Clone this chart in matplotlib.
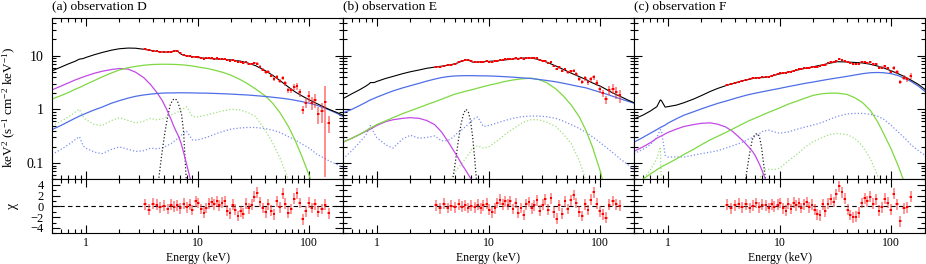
import numpy as np
import matplotlib
matplotlib.use('Agg')
import matplotlib.pyplot as plt
from matplotlib.ticker import LogLocator, NullFormatter, MultipleLocator

plt.rcParams['font.family'] = ['Liberation Serif', 'DejaVu Serif']
plt.rcParams['mathtext.fontset'] = 'custom'
plt.rcParams['mathtext.rm'] = 'Liberation Serif'
plt.rcParams['mathtext.it'] = 'Liberation Serif:italic'
plt.rcParams['axes.linewidth'] = 0.8

# model grid (keV)
e_mod = [0.5, 0.6, 0.7, 0.8, 0.86, 0.88, 0.95, 1.0, 1.2, 1.4, 1.7, 2.0,
         2.4, 2.8, 3.3, 3.8, 4.3, 4.8, 5.3, 5.8, 6.1, 6.4, 6.7, 7.0,
         7.15, 7.5, 8.0, 9, 10, 12, 14, 17, 20, 24, 28, 33,
         40, 47, 55, 65, 75, 85, 100, 115, 130, 150, 175, 200]
e_gauss = [4.2, 4.5, 4.8, 5.1, 5.4, 5.7, 6.0, 6.3, 6.6, 6.9, 7.2, 7.5, 7.8, 8.1, 8.4]

# ---- observation D
total_D = [5.2, 6.1, 7.0, 7.8, 8.4, 8.6, 8.8, 9.2, 10.4, 11.4, 12.6, 13.4,
           13.8, 13.7, 13.1, 12.5, 12.0, 11.7, 11.6, 11.8, 12.1, 12.3, 11.9, 11.0,
           10.6, 10.2, 9.9, 9.6, 9.2, 8.9, 8.7, 8.5, 8.3, 7.9, 7.3, 6.5,
           5.3, 4.3, 3.4, 2.6, 2.1, 1.8, 1.5, 1.3, 1.15, 1.0, 0.88, 0.78]
blue_D = [0.42, 0.5, 0.59, 0.68, 0.73, 0.75, 0.8, 0.84, 0.98, 1.1, 1.3, 1.45,
          1.62, 1.75, 1.85, 1.92, 1.97, 2.0, 2.02, 2.02, 2.02, 2.03, 2.03, 2.03,
          2.03, 2.03, 2.03, 2.02, 2.01, 2.0, 1.98, 1.95, 1.92, 1.88, 1.85, 1.8,
          1.74, 1.68, 1.62, 1.55, 1.47, 1.4, 1.3, 1.2, 1.1, 0.98, 0.85, 0.74]
green_D = [1.55, 1.8, 2.05, 2.35, 2.5, 2.55, 2.75, 2.9, 3.45, 4.0, 4.75, 5.4,
           5.95, 6.3, 6.6, 6.78, 6.87, 6.9, 6.9, 6.88, 6.85, 6.83, 6.8, 6.75,
           6.73, 6.7, 6.6, 6.4, 6.15, 5.8, 5.4, 4.85, 4.3, 3.6, 3.0, 2.4,
           1.8, 1.3, 0.85, 0.48, 0.26, 0.14, 0.058, 0.022, 0.008, 0.002, 0.001, 0.001]
magenta_D = [2.3, 2.7, 3.1, 3.5, 3.7, 3.78, 4.0, 4.15, 4.7, 5.1, 5.5, 5.75,
             5.6, 4.9, 3.9, 2.9, 2.1, 1.5, 1.0, 0.65, 0.5, 0.4, 0.33, 0.26,
             0.23, 0.16, 0.095, 0.035, 0.012, 0.001, 0.001, 0.001, 0.001, 0.001, 0.001, 0.001,
             0.001, 0.001, 0.001, 0.001, 0.001, 0.001, 0.001, 0.001, 0.001, 0.001, 0.001, 0.001]
gdot_D = [0.49, 0.6, 0.72, 0.88, 0.98, 1.0, 0.72, 0.65, 0.52, 0.5, 0.62, 0.7,
          0.62, 0.56, 0.6, 0.68, 0.64, 0.66, 0.72, 0.78, 0.82, 0.86, 0.9, 0.95,
          0.98, 1.03, 1.12, 0.74, 0.72, 0.78, 0.85, 0.94, 1.0, 0.98, 0.88, 0.74,
          0.42, 0.24, 0.12, 0.05, 0.02, 0.008, 0.001, 0.001, 0.001, 0.001, 0.001, 0.001]
bdot_D = [0.145, 0.18, 0.22, 0.27, 0.3, 0.31, 0.21, 0.19, 0.16, 0.15, 0.18, 0.2,
          0.18, 0.165, 0.17, 0.19, 0.185, 0.19, 0.21, 0.23, 0.25, 0.27, 0.29, 0.31,
          0.33, 0.36, 0.39, 0.27, 0.27, 0.3, 0.34, 0.39, 0.43, 0.45, 0.46, 0.46,
          0.44, 0.41, 0.37, 0.31, 0.27, 0.23, 0.19, 0.15, 0.13, 0.11, 0.095, 0.083]
gauss_D = [0.015, 0.05, 0.15, 0.36, 0.72, 1.2, 1.5, 1.58, 1.45, 1.1, 0.8, 0.4, 0.09, 0.025, 0.007]

# ---- observation E
total_E = [1.58, 1.95, 2.3, 2.7, 3.0, 3.15, 3.15, 3.3, 3.75, 4.1, 4.6, 5.0,
           5.4, 5.8, 6.1, 6.35, 6.6, 6.9, 7.3, 7.9, 8.2, 8.3, 8.1, 7.8,
           7.6, 7.5, 7.6, 7.7, 7.8, 8.0, 8.3, 8.7, 9.0, 9.0, 8.5, 7.6,
           6.4, 5.5, 4.7, 4.05, 3.55, 3.1, 2.7, 2.3, 2.0, 1.75, 1.5, 1.33]
blue_E = [0.86, 1.0, 1.17, 1.35, 1.47, 1.5, 1.6, 1.68, 1.95, 2.2, 2.5, 2.75,
          3.05, 3.35, 3.65, 3.9, 4.05, 4.15, 4.2, 4.22, 4.23, 4.23, 4.23, 4.23,
          4.23, 4.22, 4.21, 4.2, 4.18, 4.12, 4.05, 3.95, 3.85, 3.75, 3.6, 3.45,
          3.25, 3.05, 2.85, 2.65, 2.5, 2.3, 2.08, 1.9, 1.74, 1.58, 1.42, 1.3]
green_E = [0.245, 0.29, 0.34, 0.4, 0.44, 0.45, 0.49, 0.52, 0.61, 0.7, 0.83, 0.94,
           1.08, 1.22, 1.38, 1.54, 1.7, 1.86, 1.98, 2.08, 2.15, 2.2, 2.25, 2.3,
           2.33, 2.38, 2.48, 2.65, 2.8, 3.05, 3.3, 3.55, 3.7, 3.8, 3.6, 3.15,
           2.4, 1.75, 1.2, 0.72, 0.39, 0.2, 0.07, 0.022, 0.006, 0.001, 0.001, 0.001]
magenta_E = [0.245, 0.29, 0.34, 0.39, 0.42, 0.43, 0.47, 0.5, 0.59, 0.64, 0.68, 0.7,
             0.68, 0.62, 0.52, 0.38, 0.26, 0.18, 0.13, 0.093, 0.08, 0.068, 0.058, 0.05,
             0.046, 0.038, 0.028, 0.015, 0.007, 0.001, 0.001, 0.001, 0.001, 0.001, 0.001, 0.001,
             0.001, 0.001, 0.001, 0.001, 0.001, 0.001, 0.001, 0.001, 0.001, 0.001, 0.001, 0.001]
gdot_E = [0.001, 0.001, 0.001, 0.001, 0.001, 0.001, 0.001, 0.001, 0.001, 0.001, 0.001, 0.001,
          0.001, 0.001, 0.001, 0.001, 0.04, 0.06, 0.08, 0.1, 0.115, 0.13, 0.15, 0.17,
          0.19, 0.2, 0.21, 0.19, 0.2, 0.26, 0.34, 0.45, 0.56, 0.64, 0.64, 0.58,
          0.48, 0.34, 0.23, 0.11, 0.045, 0.015, 0.001, 0.001, 0.001, 0.001, 0.001, 0.001]
bdot_E = [0.12, 0.17, 0.24, 0.33, 0.45, 0.5, 0.36, 0.3, 0.22, 0.19, 0.28, 0.33,
          0.29, 0.3, 0.32, 0.26, 0.26, 0.3, 0.37, 0.42, 0.46, 0.5, 0.55, 0.6,
          0.63, 0.68, 0.72, 0.48, 0.5, 0.56, 0.62, 0.69, 0.73, 0.75, 0.75, 0.73,
          0.68, 0.6, 0.52, 0.44, 0.37, 0.31, 0.24, 0.19, 0.155, 0.12, 0.095, 0.075]
gauss_E = [0.005, 0.02, 0.05, 0.12, 0.28, 0.55, 0.85, 1.0, 0.9, 0.62, 0.32, 0.13, 0.05, 0.015, 0.004]

# ---- observation F
total_F = [0.66, 0.78, 0.93, 1.12, 1.5, 1.45, 1.1, 1.12, 1.2, 1.33, 1.55, 1.8,
           2.15, 2.45, 2.75, 3.0, 3.25, 3.45, 3.6, 3.75, 3.85, 3.9, 3.9, 3.9,
           3.9, 3.95, 4.05, 4.3, 4.55, 4.95, 5.3, 5.8, 6.2, 6.7, 7.2, 7.7,
           7.6, 7.45, 7.3, 6.9, 6.4, 5.9, 5.2, 4.6, 4.1, 3.5, 2.9, 2.35]
blue_F = [0.245, 0.3, 0.36, 0.42, 0.46, 0.47, 0.51, 0.55, 0.67, 0.78, 0.9, 1.02,
          1.16, 1.29, 1.42, 1.55, 1.67, 1.78, 1.88, 1.96, 2.0, 2.04, 2.08, 2.12,
          2.14, 2.18, 2.24, 2.35, 2.45, 2.65, 2.82, 3.05, 3.22, 3.45, 3.65, 3.85,
          4.1, 4.35, 4.6, 4.8, 4.85, 4.8, 4.6, 4.25, 3.8, 3.3, 2.7, 2.15]
green_F = [0.04, 0.05, 0.063, 0.075, 0.083, 0.085, 0.093, 0.098, 0.12, 0.145, 0.18, 0.22,
           0.27, 0.315, 0.37, 0.43, 0.49, 0.55, 0.61, 0.66, 0.69, 0.72, 0.75, 0.78,
           0.8, 0.83, 0.88, 0.97, 1.06, 1.25, 1.4, 1.62, 1.82, 1.95, 2.0, 2.0,
           1.9, 1.65, 1.35, 0.95, 0.6, 0.36, 0.18, 0.09, 0.045, 0.015, 0.004, 0.001]
magenta_F = [0.166, 0.2, 0.24, 0.29, 0.315, 0.32, 0.35, 0.37, 0.43, 0.48, 0.52, 0.55,
             0.56, 0.53, 0.47, 0.39, 0.31, 0.25, 0.2, 0.16, 0.135, 0.11, 0.09, 0.072,
             0.064, 0.05, 0.034, 0.015, 0.006, 0.001, 0.001, 0.001, 0.001, 0.001, 0.001, 0.001,
             0.001, 0.001, 0.001, 0.001, 0.001, 0.001, 0.001, 0.001, 0.001, 0.001, 0.001, 0.001]
gdot_F = [0.03, 0.05, 0.075, 0.12, 0.2, 0.04, 0.02, 0.015, 0.015, 0.016, 0.018, 0.02,
          0.022, 0.025, 0.028, 0.03, 0.033, 0.036, 0.04, 0.043, 0.046, 0.05, 0.055, 0.06,
          0.075, 0.077, 0.077, 0.076, 0.08, 0.11, 0.14, 0.2, 0.25, 0.3, 0.34, 0.355,
          0.34, 0.29, 0.21, 0.12, 0.06, 0.025, 0.001, 0.001, 0.001, 0.001, 0.001, 0.001]
bdot_F = [0.15, 0.18, 0.22, 0.3, 0.42, 0.4, 0.14, 0.13, 0.13, 0.13, 0.14, 0.15,
          0.16, 0.17, 0.19, 0.21, 0.23, 0.25, 0.28, 0.3, 0.32, 0.34, 0.36, 0.38,
          0.4, 0.4, 0.41, 0.38, 0.36, 0.38, 0.42, 0.47, 0.51, 0.57, 0.65, 0.74,
          0.82, 0.84, 0.84, 0.81, 0.75, 0.66, 0.5, 0.38, 0.3, 0.22, 0.17, 0.14]
gauss_F = [0.002, 0.008, 0.03, 0.07, 0.15, 0.27, 0.34, 0.355, 0.32, 0.2, 0.1, 0.05, 0.02, 0.006, 0.002]

# ---- unfolded data points (keV), flux, error (%) and residuals (chi)
e_dat = [3.4, 3.7, 4.0, 4.3, 4.6, 5.0, 5.4, 5.8, 6.2, 6.6,
         7.0, 7.5, 8.0, 8.5, 9.0, 9.6, 10.2, 10.8, 11.4, 12.0,
         12.7, 13.4, 14.1, 14.9, 15.7, 16.6, 17.5, 18.5, 19.5, 20.6,
         21.8, 23.0, 24.3, 25.7, 27.2, 28.8, 30.5, 32.3, 34.2, 36.2,
         38.3, 40.6, 43.0, 45.6, 48.3, 51.2, 54.3, 57.6, 61.1, 64.8,
         68.8, 73.0, 77.5, 82.3, 87.4, 92.8, 98.6, 105, 112, 120,
         129, 139, 149]

flux_D = [13.08, 12.49, 12.38, 12.04, 11.77, 11.66, 11.53, 11.84, 12.19, 12.03,
          10.94, 10.27, 9.87, 9.79, 9.5, 9.48, 9.26, 9.0, 8.78, 8.85,
          8.92, 8.91, 8.78, 8.83, 8.62, 8.68, 8.7, 8.21, 8.01, 8.32,
          7.94, 7.5, 7.6, 7.23, 7.57, 7.06, 7.0, 7.18, 7.12, 6.21,
          5.5, 4.85, 4.98, 4.25, 3.67, 4.07, 3.39, 3.85, 3.05, 2.27,
          2.26, 2.6, 2.7, 2.06, 0.99, 1.34, 1.76, 1.32, 1.5, 0.82,
          0.93, 1.37, 0.55]
err_D = [1.5, 1.4, 1.3, 1.2, 1.2, 1.2, 1.2, 1.2, 1.2, 1.2,
         1.3, 1.3, 1.4, 1.4, 1.5, 1.6, 1.7, 1.8, 1.9, 2.0,
         2.1, 2.2, 2.3, 2.4, 2.5, 2.6, 2.7, 2.8, 3.0, 3.1,
         3.3, 3.5, 3.7, 3.9, 4.1, 4.3, 4.6, 4.9, 5.2, 5.5,
         5.8, 6.2, 6.6, 7.0, 7.5, 8.0, 8.6, 9.2, 10, 11,
         12, 13, 14, 16, 18, 20, 23, 26, 30, 35,
         40, 96, 35]
chi_D = [0.4, -0.6, 0.5, 0.3, -0.2, 0.1, -0.5, 0.3, -0.1, 0.2,
         -0.4, 0.5, -0.2, 0.3, -0.7, 0.9, 0.6, -0.5, -1.2, -0.3,
         0.5, 0.8, 0.4, 0.9, 0.2, 0.7, 1.0, -0.8, -1.3, 0.3,
         -0.6, -1.8, -0.9, -1.4, 0.5, -0.4, 0.3, 1.8, 2.5, 0.8,
         -0.3, -1.1, 0.4, -0.8, -1.5, 0.9, -0.2, 2.3, 0.5, -1.2,
         -0.5, 1.4, 2.4, 0.6, -2.4, -0.9, 0.7, -0.3, 0.4, -1.0,
         -0.5, 0.3, -1.3]

flux_E = [6.17, 6.25, 6.51, 6.57, 6.79, 7.03, 7.44, 7.89, 8.27, 8.11,
          7.81, 7.48, 7.64, 7.6, 7.73, 7.82, 7.72, 7.71, 7.89, 8.1,
          8.29, 8.27, 8.46, 8.48, 8.71, 8.54, 8.87, 8.59, 8.88, 8.63,
          9.1, 9.2, 8.84, 8.85, 8.9, 8.12, 8.09, 8.08, 7.22, 7.5,
          6.36, 5.59, 6.06, 5.25, 5.64, 4.89, 5.11, 5.24, 4.5, 3.72,
          3.24, 3.79, 3.21, 3.62, 3.94, 3.07, 2.39, 2.0, 1.54, 2.33,
          2.44, 2.06, 1.81]
err_E = [2.0, 1.9, 1.8, 1.7, 1.6, 1.6, 1.5, 1.5, 1.5, 1.5,
         1.5, 1.6, 1.6, 1.7, 1.7, 1.8, 1.8, 1.9, 1.9, 2.0,
         2.0, 2.1, 2.1, 2.2, 2.2, 2.3, 2.3, 2.4, 2.5, 2.6,
         2.7, 2.8, 2.9, 3.0, 3.2, 3.4, 3.6, 3.8, 4.0, 4.3,
         4.6, 4.9, 5.2, 5.6, 6.0, 6.4, 6.8, 7.2, 7.7, 8.2,
         8.8, 9.4, 10, 11, 12, 13, 14, 15, 17, 19,
         21, 24, 27]
chi_E = [0.2, -0.4, 0.5, -0.3, 0.1, -0.2, 0.4, -0.1, 0.2, -0.3,
         0.1, -0.2, 0.3, -0.4, 0.2, 0.5, -0.6, -1.1, -0.4, 0.6,
         1.2, 0.4, 0.9, 0.3, 1.0, -0.5, 0.6, -1.2, -0.3, -1.6,
         0.4, 0.8, -0.4, 0.2, 1.1, -0.8, 0.3, 1.3, -0.6, 1.5,
         -1.1, -2.3, 0.2, -1.4, 0.9, -0.5, 1.1, 2.1, 0.6, -1.0,
         -1.8, 0.4, -0.7, 1.2, 2.6, 0.5, -0.9, -1.5, -2.1, 0.3,
         1.0, 0.4, 0.1]

flux_F = [2.82, 2.92, 3.11, 3.29, 3.36, 3.53, 3.61, 3.76, 3.91, 3.89,
          3.92, 3.96, 4.03, 4.21, 4.29, 4.48, 4.65, 4.68, 4.76, 5.0,
          5.02, 5.27, 5.34, 5.51, 5.57, 5.78, 5.96, 5.98, 6.17, 6.19,
          6.22, 6.32, 6.79, 6.76, 7.15, 7.49, 7.55, 8.05, 8.5, 8.28,
          8.02, 7.53, 7.22, 7.02, 6.95, 7.03, 7.48, 7.67, 7.34, 7.51,
          6.87, 6.97, 5.99, 5.96, 6.31, 5.79, 5.02, 5.9, 4.88, 3.28,
          3.89, 3.62, 4.16]
err_F = [2.5, 2.4, 2.3, 2.2, 2.1, 2.0, 2.0, 1.9, 1.9, 1.9,
         1.9, 1.9, 1.9, 1.9, 1.9, 1.9, 1.9, 1.9, 1.9, 1.9,
         1.9, 1.9, 1.9, 1.9, 2.0, 2.0, 2.0, 2.0, 2.1, 2.1,
         2.2, 2.2, 2.3, 2.3, 2.4, 2.5, 2.6, 2.7, 2.8, 2.9,
         3.0, 3.2, 3.3, 3.5, 3.7, 3.9, 4.1, 4.3, 4.6, 4.9,
         5.2, 5.5, 5.8, 6.2, 6.6, 7.0, 7.5, 8.0, 8.6, 9.3,
         10, 11, 12]
chi_F = [0.3, -0.4, 0.2, 0.5, -0.2, 0.4, -0.3, 0.1, 0.6, -0.2,
         0.3, 0.2, -0.3, 0.4, -0.1, 0.3, 0.6, -0.4, -0.8, 0.5,
         -0.5, 0.7, 0.2, 0.6, -0.3, 0.4, 0.8, -0.2, 0.3, -0.6,
         -1.5, -1.7, 0.4, -0.9, 0.5, 1.3, 0.8, 2.2, 3.7, 2.6,
         1.4, -0.6, -1.6, -2.0, -1.9, -1.2, 0.6, 1.5, 0.9, 1.8,
         0.5, 1.3, -0.8, -0.2, 1.4, 0.7, -0.6, 2.3, 0.4, -2.8,
         -0.4, -0.2, 1.8]

panels = [
    ('(a) observation D', total_D, blue_D, green_D, magenta_D, gdot_D, bdot_D, gauss_D, flux_D, err_D, chi_D),
    ('(b) observation E', total_E, blue_E, green_E, magenta_E, gdot_E, bdot_E, gauss_E, flux_E, err_E, chi_E),
    ('(c) observation F', total_F, blue_F, green_F, magenta_F, gdot_F, bdot_F, gauss_F, flux_F, err_F, chi_F),
]

c_blue = '#4e6ee8'
c_green = '#7fd842'
c_mag = '#c24ae6'
c_gdot = '#9fe07e'
c_bdot = '#7d8ff0'
c_err = (1.0, 0.2, 0.2, 0.6)

# bin widths from the data energies
e = np.array(e_dat)
mid = np.sqrt(e[:-1] * e[1:])
edges = np.concatenate([[e[0] ** 2 / mid[0]], mid, [e[-1] ** 2 / mid[-1]]])
xerr = [e - edges[:-1], edges[1:] - e]


def style(a):
    a.tick_params(which='both', direction='in', top=True, right=True, width=0.8)
    a.tick_params(which='major', length=6)
    a.tick_params(which='minor', length=3)


fig = plt.figure(figsize=(9.26, 2.64), dpi=100)
lefts = [52, 343, 634]
for i, p in enumerate(panels):
    title, tot, blu, grn, mag, gdt, bdt, gss, flux, err, chi = p
    x0 = lefts[i] / 926.0
    ax = fig.add_axes([x0, 1 - 179.3 / 264, 291 / 926.0, 161.3 / 264])
    rx = fig.add_axes([x0, 1 - 233.3 / 264, 291 / 926.0, 54 / 264], sharex=ax)

    ax.plot(e_mod, bdt, ':', color=c_bdot, lw=0.9)
    ax.plot(e_mod, gdt, ':', color=c_gdot, lw=0.9)
    ax.plot(e_gauss, gss, ':', color='#222222', lw=0.9)
    ax.plot(e_mod, mag, '-', color=c_mag, lw=0.9)
    ax.plot(e_mod, grn, '-', color=c_green, lw=0.9)
    ax.plot(e_mod, blu, '-', color=c_blue, lw=0.9)
    ax.plot(e_mod, tot, '-', color='black', lw=0.8)

    f = np.array(flux)
    ax.errorbar(e, f, yerr=f * np.array(err) / 100.0, xerr=xerr, fmt='none',
                ecolor=c_err, elinewidth=1.3)
    ax.plot(e, f, 's', color='red', ms=1.6, mew=0)

    rx.axhline(0, color='black', lw=0.8, ls=(0, (4, 3)))
    rx.errorbar(e, chi, yerr=1.0, xerr=xerr, fmt='none', ecolor=c_err, elinewidth=1.2)
    rx.plot(e, chi, 's', color='red', ms=1.6, mew=0)

    ax.set_xscale('log')
    ax.set_yscale('log')
    ax.set_xlim(0.5, 200)
    ax.set_ylim(0.05, 50)
    rx.set_ylim(-5, 5)

    for a in (ax, rx):
        a.xaxis.set_major_locator(LogLocator(base=10, subs=(1.0,)))
        a.xaxis.set_minor_locator(LogLocator(base=10, subs=np.arange(2, 10)))
        a.xaxis.set_minor_formatter(NullFormatter())
        style(a)
    ax.set_yticks([0.1, 1, 10])
    ax.yaxis.set_minor_locator(LogLocator(base=10, subs=np.arange(2, 10)))
    ax.yaxis.set_minor_formatter(NullFormatter())
    rx.set_yticks([-4, -2, 0, 2, 4])
    rx.yaxis.set_minor_locator(MultipleLocator(1))

    ax.tick_params(axis='x', labelbottom=False)
    rx.set_xticks([1, 10, 100])
    rx.set_xticklabels(['1', '10', '100'])
    rx.set_xlim(0.5, 200)
    rx.tick_params(axis='x', labelsize=8.5, pad=2.5)
    rx.set_xlabel('Energy (keV)', fontsize=8.5, labelpad=2)

    if i == 0:
        ax.set_yticklabels(['0.1', '1', '10'])
        ax.tick_params(axis='y', labelsize=10, pad=6)
        rx.tick_params(axis='y', labelsize=9, pad=6)
        ax.set_ylabel(r'keV$^2$ (s$^{-1}$ cm$^{-2}$ keV$^{-1}$)', fontsize=9.5)
        ax.yaxis.set_label_coords(-0.118, 0.45)
        rx.set_ylabel('χ', fontsize=10)
        rx.yaxis.set_label_coords(-0.112, 0.5)
    else:
        ax.tick_params(axis='y', labelleft=False)
        rx.tick_params(axis='y', labelleft=False)

    ax.text(0.0, 1.035, title, transform=ax.transAxes, ha='left', va='bottom', fontsize=9.7)

fig.savefig('out.png', dpi=100)
